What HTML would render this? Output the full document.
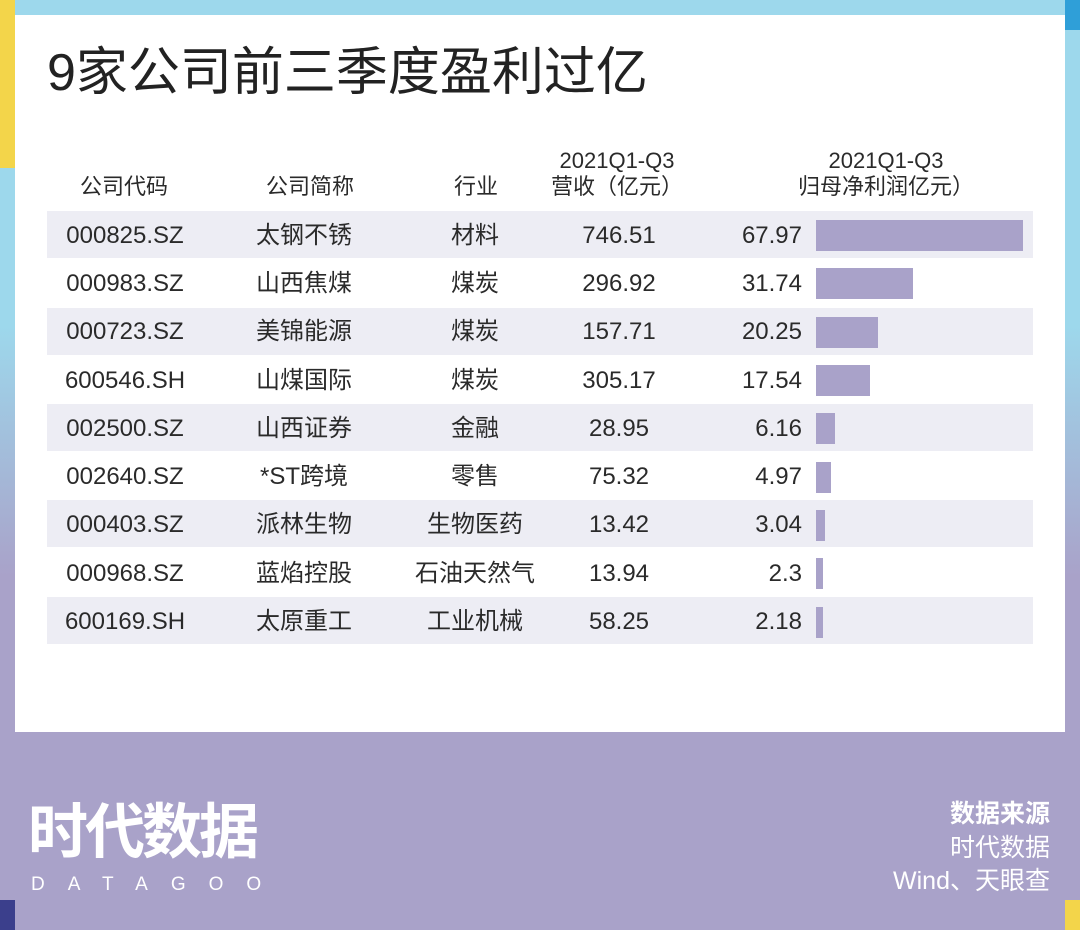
<!DOCTYPE html>
<html><head><meta charset="utf-8"><style>
*{margin:0;padding:0;box-sizing:border-box}
body{width:1080px;height:930px;position:relative;overflow:hidden;background:linear-gradient(180deg,#9dd8ec 0%,#9dd8ec 35%,#a9a2c9 62%,#a9a2c9 100%);font-family:"Liberation Sans","Noto Sans CJK SC",sans-serif;}
.abs{position:absolute}
.panel{left:15px;top:15px;width:1050px;height:717px;background:#fff}
.bottom{left:15px;top:732px;width:1050px;height:198px;background:#a9a2c9}
.t{position:absolute;color:#2a2a2a;font-size:24px;white-space:nowrap;line-height:30px}
.h{position:absolute;color:#2a2a2a;font-size:22px;white-space:nowrap;line-height:26px;text-align:center}
.row{position:absolute;left:47px;width:986px;height:47px;background:#ededf4}
.bar{position:absolute;left:816px;height:31px;background:#a9a2c9}
.w{position:absolute;color:#fff;white-space:nowrap}
</style></head><body>
<div class="abs" style="left:0;top:0;width:15px;height:168px;background:#f3d54a"></div>
<div class="abs" style="left:0;top:900px;width:15px;height:30px;background:#3b3f8c"></div>
<div class="abs" style="left:1065px;top:0;width:15px;height:30px;background:#2f9fd8"></div>
<div class="abs" style="left:1065px;top:900px;width:15px;height:30px;background:#f3d54a"></div>
<div class="abs panel"></div>
<div class="abs bottom"></div>

<div class="t" style="left:47px;top:42px;font-size:52px;line-height:62px;color:#222">9家公司前三季度盈利过亿</div>

<div class="h" style="left:64px;top:174px;width:120px">公司代码</div>
<div class="h" style="left:250px;top:174px;width:120px">公司简称</div>
<div class="h" style="left:426px;top:174px;width:100px">行业</div>
<div class="h" style="left:527px;top:148px;width:180px">2021Q1-Q3</div>
<div class="h" style="left:527px;top:174px;width:180px">营收（亿元）</div>
<div class="h" style="left:776px;top:148px;width:220px">2021Q1-Q3</div>
<div class="h" style="left:776px;top:174px;width:220px">归母净利润亿元）</div>

<div class="row" style="top:211px"></div>
<div class="row" style="top:308px"></div>
<div class="row" style="top:404px"></div>
<div class="row" style="top:500px"></div>
<div class="row" style="top:597px"></div>

<div class="bar" style="top:220px;width:207px"></div>
<div class="bar" style="top:268px;width:97px"></div>
<div class="bar" style="top:317px;width:62px"></div>
<div class="bar" style="top:365px;width:54px"></div>
<div class="bar" style="top:413px;width:19px"></div>
<div class="bar" style="top:462px;width:15px"></div>
<div class="bar" style="top:510px;width:9px"></div>
<div class="bar" style="top:558px;width:7px"></div>
<div class="bar" style="top:607px;width:7px"></div>

<div class="t" style="left:45px;top:221px;width:160px;text-align:center">000825.SZ</div>
<div class="t" style="left:45px;top:269px;width:160px;text-align:center">000983.SZ</div>
<div class="t" style="left:45px;top:317px;width:160px;text-align:center">000723.SZ</div>
<div class="t" style="left:45px;top:366px;width:160px;text-align:center">600546.SH</div>
<div class="t" style="left:45px;top:414px;width:160px;text-align:center">002500.SZ</div>
<div class="t" style="left:45px;top:462px;width:160px;text-align:center">002640.SZ</div>
<div class="t" style="left:45px;top:510px;width:160px;text-align:center">000403.SZ</div>
<div class="t" style="left:45px;top:559px;width:160px;text-align:center">000968.SZ</div>
<div class="t" style="left:45px;top:607px;width:160px;text-align:center">600169.SH</div>

<div class="t" style="left:224px;top:221px;width:160px;text-align:center">太钢不锈</div>
<div class="t" style="left:224px;top:269px;width:160px;text-align:center">山西焦煤</div>
<div class="t" style="left:224px;top:317px;width:160px;text-align:center">美锦能源</div>
<div class="t" style="left:224px;top:366px;width:160px;text-align:center">山煤国际</div>
<div class="t" style="left:224px;top:414px;width:160px;text-align:center">山西证券</div>
<div class="t" style="left:224px;top:462px;width:160px;text-align:center">*ST跨境</div>
<div class="t" style="left:224px;top:510px;width:160px;text-align:center">派林生物</div>
<div class="t" style="left:224px;top:559px;width:160px;text-align:center">蓝焰控股</div>
<div class="t" style="left:224px;top:607px;width:160px;text-align:center">太原重工</div>

<div class="t" style="left:395px;top:221px;width:160px;text-align:center">材料</div>
<div class="t" style="left:395px;top:269px;width:160px;text-align:center">煤炭</div>
<div class="t" style="left:395px;top:317px;width:160px;text-align:center">煤炭</div>
<div class="t" style="left:395px;top:366px;width:160px;text-align:center">煤炭</div>
<div class="t" style="left:395px;top:414px;width:160px;text-align:center">金融</div>
<div class="t" style="left:395px;top:462px;width:160px;text-align:center">零售</div>
<div class="t" style="left:395px;top:510px;width:160px;text-align:center">生物医药</div>
<div class="t" style="left:395px;top:559px;width:160px;text-align:center">石油天然气</div>
<div class="t" style="left:395px;top:607px;width:160px;text-align:center">工业机械</div>

<div class="t" style="left:539px;top:221px;width:160px;text-align:center">746.51</div>
<div class="t" style="left:539px;top:269px;width:160px;text-align:center">296.92</div>
<div class="t" style="left:539px;top:317px;width:160px;text-align:center">157.71</div>
<div class="t" style="left:539px;top:366px;width:160px;text-align:center">305.17</div>
<div class="t" style="left:539px;top:414px;width:160px;text-align:center">28.95</div>
<div class="t" style="left:539px;top:462px;width:160px;text-align:center">75.32</div>
<div class="t" style="left:539px;top:510px;width:160px;text-align:center">13.42</div>
<div class="t" style="left:539px;top:559px;width:160px;text-align:center">13.94</div>
<div class="t" style="left:539px;top:607px;width:160px;text-align:center">58.25</div>

<div class="t" style="left:660px;top:221px;width:142px;text-align:right">67.97</div>
<div class="t" style="left:660px;top:269px;width:142px;text-align:right">31.74</div>
<div class="t" style="left:660px;top:317px;width:142px;text-align:right">20.25</div>
<div class="t" style="left:660px;top:366px;width:142px;text-align:right">17.54</div>
<div class="t" style="left:660px;top:414px;width:142px;text-align:right">6.16</div>
<div class="t" style="left:660px;top:462px;width:142px;text-align:right">4.97</div>
<div class="t" style="left:660px;top:510px;width:142px;text-align:right">3.04</div>
<div class="t" style="left:660px;top:559px;width:142px;text-align:right">2.3</div>
<div class="t" style="left:660px;top:607px;width:142px;text-align:right">2.18</div>

<div class="w" style="left:28px;top:796px;font-size:60px;line-height:74px;font-weight:bold;letter-spacing:-3px">时代数据</div>
<div class="w" style="left:31px;top:874px;font-size:19px;line-height:22px;letter-spacing:23px">DATAGOO</div>

<div class="w" style="right:30px;top:798px;font-size:25px;line-height:32px;font-weight:bold">数据来源</div>
<div class="w" style="right:30px;top:832px;font-size:25px;line-height:32px">时代数据</div>
<div class="w" style="right:30px;top:865px;font-size:25px;line-height:32px">Wind、天眼查</div>
</body></html>
